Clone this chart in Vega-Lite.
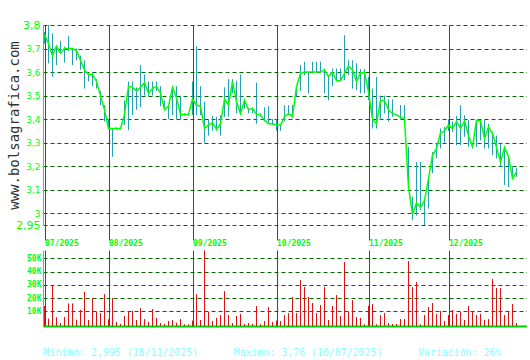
{
  "$schema": "https://vega.github.io/schema/vega-lite/v6.json",
  "background": "white",
  "padding": {"left": 7, "top": 19, "right": 0, "bottom": 0},
  "spacing": 2,
  "config": {
    "view": {"stroke": null},
    "axis": {"labelFlush": false, "labelOverlap": false, "labelBound": false}
  },
  "datasets": {
    "px": [
      {"i":0,"c":3.76,"h":3.77,"l":3.72,"v":14000},
      {"i":1,"c":3.72,"h":3.8,"l":3.637,"v":4500},
      {"i":2,"c":3.67,"h":3.765,"l":3.58,"v":30000},
      {"i":3,"c":3.71,"h":3.715,"l":3.63,"v":5500},
      {"i":4,"c":3.68,"h":3.733,"l":3.677,"v":1200},
      {"i":5,"c":3.7,"h":3.708,"l":3.64,"v":5700},
      {"i":6,"c":3.7,"h":3.753,"l":3.69,"v":16000},
      {"i":7,"c":3.7,"h":3.7,"l":3.63,"v":16000},
      {"i":8,"c":3.69,"h":3.7,"l":3.65,"v":3700},
      {"i":9,"c":3.65,"h":3.67,"l":3.61,"v":11000},
      {"i":10,"c":3.61,"h":3.65,"l":3.53,"v":24600},
      {"i":11,"c":3.59,"h":3.594,"l":3.56,"v":3500},
      {"i":12,"c":3.59,"h":3.6,"l":3.54,"v":20000},
      {"i":13,"c":3.56,"h":3.57,"l":3.53,"v":9800},
      {"i":14,"c":3.5,"h":3.52,"l":3.46,"v":8700},
      {"i":15,"c":3.44,"h":3.46,"l":3.39,"v":23000},
      {"i":16,"c":3.36,"h":3.4,"l":3.36,"v":4000},
      {"i":17,"c":3.36,"h":3.36,"l":3.24,"v":20000},
      {"i":18,"c":3.36,"h":3.365,"l":3.355,"v":2000},
      {"i":19,"c":3.36,"h":3.365,"l":3.355,"v":500},
      {"i":20,"c":3.42,"h":3.48,"l":3.375,"v":6500},
      {"i":21,"c":3.54,"h":3.56,"l":3.353,"v":10300},
      {"i":22,"c":3.535,"h":3.56,"l":3.417,"v":10300},
      {"i":23,"c":3.52,"h":3.535,"l":3.44,"v":3500},
      {"i":24,"c":3.535,"h":3.63,"l":3.45,"v":12500},
      {"i":25,"c":3.555,"h":3.59,"l":3.5,"v":4200},
      {"i":26,"c":3.51,"h":3.56,"l":3.5,"v":2000},
      {"i":27,"c":3.53,"h":3.56,"l":3.5,"v":11800},
      {"i":28,"c":3.54,"h":3.56,"l":3.52,"v":5000},
      {"i":29,"c":3.51,"h":3.54,"l":3.455,"v":1200},
      {"i":30,"c":3.44,"h":3.48,"l":3.44,"v":500},
      {"i":31,"c":3.455,"h":3.455,"l":3.4,"v":2700},
      {"i":32,"c":3.535,"h":3.54,"l":3.417,"v":3500},
      {"i":33,"c":3.49,"h":3.54,"l":3.4,"v":1500},
      {"i":34,"c":3.42,"h":3.5,"l":3.4,"v":4200},
      {"i":35,"c":3.42,"h":3.425,"l":3.415,"v":200},
      {"i":36,"c":3.42,"h":3.425,"l":3.415,"v":200},
      {"i":37,"c":3.485,"h":3.56,"l":3.417,"v":3000},
      {"i":38,"c":3.46,"h":3.71,"l":3.417,"v":23000},
      {"i":39,"c":3.455,"h":3.54,"l":3.417,"v":3500},
      {"i":40,"c":3.36,"h":3.474,"l":3.3,"v":56000},
      {"i":41,"c":3.375,"h":3.4,"l":3.33,"v":9500},
      {"i":42,"c":3.385,"h":3.413,"l":3.35,"v":2700},
      {"i":43,"c":3.356,"h":3.41,"l":3.35,"v":5000},
      {"i":44,"c":3.38,"h":3.417,"l":3.33,"v":7200},
      {"i":45,"c":3.485,"h":3.535,"l":3.41,"v":25300},
      {"i":46,"c":3.46,"h":3.57,"l":3.41,"v":7200},
      {"i":47,"c":3.56,"h":3.57,"l":3.51,"v":1200},
      {"i":48,"c":3.474,"h":3.563,"l":3.424,"v":6500},
      {"i":49,"c":3.424,"h":3.59,"l":3.417,"v":8000},
      {"i":50,"c":3.48,"h":3.48,"l":3.445,"v":500},
      {"i":51,"c":3.44,"h":3.445,"l":3.425,"v":1200},
      {"i":52,"c":3.445,"h":3.45,"l":3.425,"v":500},
      {"i":53,"c":3.42,"h":3.555,"l":3.38,"v":14000},
      {"i":54,"c":3.417,"h":3.425,"l":3.41,"v":300},
      {"i":55,"c":3.396,"h":3.45,"l":3.39,"v":2700},
      {"i":56,"c":3.38,"h":3.455,"l":3.38,"v":13300},
      {"i":57,"c":3.38,"h":3.4,"l":3.375,"v":2000},
      {"i":58,"c":3.375,"h":3.4,"l":3.35,"v":3000},
      {"i":59,"c":3.375,"h":3.375,"l":3.35,"v":2700},
      {"i":60,"c":3.41,"h":3.46,"l":3.39,"v":7200},
      {"i":61,"c":3.424,"h":3.46,"l":3.417,"v":8700},
      {"i":62,"c":3.41,"h":3.46,"l":3.41,"v":20800},
      {"i":63,"c":3.538,"h":3.54,"l":3.495,"v":8700},
      {"i":64,"c":3.594,"h":3.63,"l":3.52,"v":33600},
      {"i":65,"c":3.6,"h":3.644,"l":3.587,"v":28400},
      {"i":66,"c":3.6,"h":3.6,"l":3.51,"v":20800},
      {"i":67,"c":3.6,"h":3.644,"l":3.6,"v":16300},
      {"i":68,"c":3.6,"h":3.644,"l":3.6,"v":8700},
      {"i":69,"c":3.6,"h":3.644,"l":3.6,"v":14800},
      {"i":70,"c":3.61,"h":3.615,"l":3.51,"v":28400},
      {"i":71,"c":3.58,"h":3.58,"l":3.48,"v":3500},
      {"i":72,"c":3.6,"h":3.615,"l":3.54,"v":14000},
      {"i":73,"c":3.563,"h":3.615,"l":3.563,"v":22300},
      {"i":74,"c":3.563,"h":3.615,"l":3.563,"v":6500},
      {"i":75,"c":3.594,"h":3.757,"l":3.566,"v":47200},
      {"i":76,"c":3.625,"h":3.65,"l":3.587,"v":9700},
      {"i":77,"c":3.61,"h":3.65,"l":3.53,"v":18500},
      {"i":78,"c":3.56,"h":3.637,"l":3.524,"v":5700},
      {"i":79,"c":3.597,"h":3.613,"l":3.51,"v":5000},
      {"i":80,"c":3.597,"h":3.613,"l":3.51,"v":200},
      {"i":81,"c":3.516,"h":3.58,"l":3.48,"v":14300},
      {"i":82,"c":3.4,"h":3.53,"l":3.36,"v":15500},
      {"i":83,"c":3.38,"h":3.58,"l":3.36,"v":200},
      {"i":84,"c":3.48,"h":3.5,"l":3.396,"v":7200},
      {"i":85,"c":3.478,"h":3.5,"l":3.424,"v":8700},
      {"i":86,"c":3.44,"h":3.484,"l":3.39,"v":1200},
      {"i":87,"c":3.424,"h":3.484,"l":3.41,"v":500},
      {"i":88,"c":3.417,"h":3.42,"l":3.415,"v":500},
      {"i":89,"c":3.41,"h":3.46,"l":3.4,"v":4200},
      {"i":90,"c":3.4,"h":3.46,"l":3.396,"v":4200},
      {"i":91,"c":3.11,"h":3.282,"l":3.11,"v":48000},
      {"i":92,"c":2.995,"h":3.07,"l":2.97,"v":28400},
      {"i":93,"c":3.044,"h":3.218,"l":2.99,"v":32100},
      {"i":94,"c":3.025,"h":3.218,"l":3.013,"v":200},
      {"i":95,"c":3.055,"h":3.055,"l":2.95,"v":7200},
      {"i":96,"c":3.147,"h":3.147,"l":3.02,"v":13300},
      {"i":97,"c":3.247,"h":3.26,"l":3.17,"v":16300},
      {"i":98,"c":3.275,"h":3.296,"l":3.233,"v":8000},
      {"i":99,"c":3.342,"h":3.36,"l":3.275,"v":10300},
      {"i":100,"c":3.35,"h":3.367,"l":3.3,"v":2700},
      {"i":101,"c":3.375,"h":3.4,"l":3.35,"v":7200},
      {"i":102,"c":3.36,"h":3.39,"l":3.346,"v":11000},
      {"i":103,"c":3.39,"h":3.413,"l":3.29,"v":8000},
      {"i":104,"c":3.36,"h":3.46,"l":3.29,"v":9700},
      {"i":105,"c":3.393,"h":3.417,"l":3.325,"v":3500},
      {"i":106,"c":3.33,"h":3.396,"l":3.282,"v":14000},
      {"i":107,"c":3.28,"h":3.29,"l":3.275,"v":10300},
      {"i":108,"c":3.396,"h":3.396,"l":3.282,"v":7200},
      {"i":109,"c":3.393,"h":3.396,"l":3.31,"v":8000},
      {"i":110,"c":3.318,"h":3.396,"l":3.275,"v":3500},
      {"i":111,"c":3.367,"h":3.38,"l":3.275,"v":4200},
      {"i":112,"c":3.34,"h":3.346,"l":3.247,"v":34400},
      {"i":113,"c":3.28,"h":3.33,"l":3.233,"v":27600},
      {"i":114,"c":3.218,"h":3.3,"l":3.197,"v":27600},
      {"i":115,"c":3.28,"h":3.282,"l":3.12,"v":7200},
      {"i":116,"c":3.24,"h":3.24,"l":3.112,"v":10300},
      {"i":117,"c":3.147,"h":3.197,"l":3.147,"v":15500},
      {"i":118,"c":3.176,"h":3.193,"l":3.155,"v":1200}
    ]
  },
  "vconcat": [
    {
      "width": 484,
      "height": 200,
      "data": {"name": "px"},
      "layer": [
        {
          "mark": {"type": "rule", "color": "#22a2b2", "strokeWidth": 1},
          "encoding": {
            "x": {
              "field": "i", "type": "quantitative",
              "scale": {"domain": [-0.375, 120.625], "nice": false, "zero": false},
              "axis": {
                "values": [0, 16, 37, 58, 81, 101],
                "tickCount": 12,
                "labelExpr": "datum.value==0?'07/2025':datum.value==16?'08/2025':datum.value==37?'09/2025':datum.value==58?'10/2025':datum.value==81?'11/2025':'12/2025'",
                "grid": true, "gridColor": "#007a00", "gridWidth": 1,
                "domain": false,
                "ticks": true, "tickSize": 15, "tickColor": "#007a00", "tickWidth": 1,
                "labelAlign": "left", "labelBaseline": "top", "labelPadding": -1, "labelDx": 1,
                "labelOverlap": false,
                "labelFont": "DejaVu Sans Mono", "labelFontWeight": "bold", "labelFontSize": 8,
                "labelColor": "#00ff00",
                "title": null
              }
            },
            "y": {
              "field": "l", "type": "quantitative",
              "scale": {"domain": [2.95, 3.8], "nice": false, "zero": false},
              "axis": {
                "values": [2.95, 3, 3.1, 3.2, 3.3, 3.4, 3.5, 3.6, 3.7, 3.8],
                "tickCount": 12,
                "labelExpr": "replace(format(datum.value, '~g'), '.', ',')",
                "labelOverlap": false,
                "grid": true, "gridColor": "#006a00", "gridDash": [4, 3], "gridWidth": 1,
                "domain": true, "domainColor": "#00ff00", "domainWidth": 1,
                "ticks": false,
                "labelPadding": 3,
                "labelFont": "DejaVu Sans",
                "labelFontSize": {"condition": {"test": "datum.value == 3.8 || datum.value == 2.95", "value": 11}, "value": 9},
                "labelColor": "#00ff00",
                "title": "www.bolsagrafica.com",
                "titleFont": "DejaVu Sans Mono", "titleFontSize": 14, "titleFontWeight": "normal",
                "titleColor": "#333333", "titlePadding": -6
              }
            },
            "y2": {"field": "h"}
          }
        },
        {
          "mark": {"type": "line", "color": "#00ff00", "strokeWidth": 1.5},
          "encoding": {
            "x": {"field": "i", "type": "quantitative"},
            "y": {"field": "c", "type": "quantitative"}
          }
        }
      ]
    },
    {
      "width": 484,
      "height": 76,
      "data": {"name": "px"},
      "mark": {"type": "rule", "color": "#dd1111", "strokeWidth": 1},
      "encoding": {
        "x": {
          "field": "i", "type": "quantitative",
          "scale": {"domain": [-0.375, 120.625], "nice": false, "zero": false},
          "axis": {
            "values": [0, 16, 37, 58, 81, 101],
            "tickCount": 12,
            "grid": true, "gridColor": "#007a00", "gridWidth": 1,
            "domain": true, "domainColor": "#00cc00", "domainWidth": 2,
            "ticks": false, "labels": false,
            "title": "Minimo: 2,995 (18/11/2025)\u00a0\u00a0\u00a0\u00a0\u00a0\u00a0Maximo: 3,76 (10/07/2025)\u00a0\u00a0\u00a0\u00a0\u00a0\u00a0Variación: 26%",
            "titleAnchor": "start", "titleAlign": "left", "titleBaseline": "alphabetic",
            "titleFont": "DejaVu Sans Mono", "titleFontSize": 9.9, "titleFontWeight": "normal",
            "titleColor": "#88ffff", "titlePadding": 29
          }
        },
        "y": {
          "field": "v", "type": "quantitative",
          "scale": {"domain": [-1060, 56300], "nice": false, "zero": false},
          "axis": {
            "values": [10000, 20000, 30000, 40000, 50000],
            "tickCount": 10,
            "labelExpr": "format(datum.value / 1000, 'd') + 'K'",
            "labelOverlap": false,
            "grid": true, "gridColor": "#006a00", "gridDash": [4, 3], "gridWidth": 1,
            "domain": true, "domainColor": "#00ff00", "domainWidth": 1,
            "ticks": false,
            "labelPadding": 2,
            "labelFont": "DejaVu Sans Mono", "labelFontWeight": "bold", "labelFontSize": 8,
            "labelColor": "#00ff00",
            "title": null
          }
        },
        "y2": {"datum": -1060}
      }
    }
  ]
}
